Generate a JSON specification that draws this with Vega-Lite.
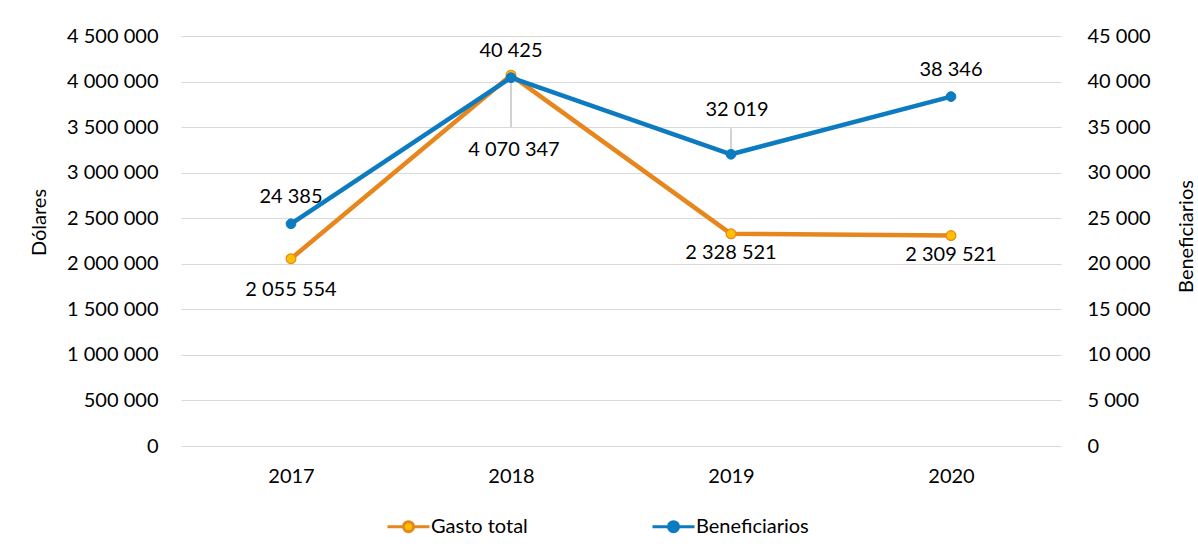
{
  "$schema": "https://vega.github.io/schema/vega-lite/v6.json",
  "width": 880,
  "height": 410,
  "autosize": {"type": "none"},
  "padding": {"left": 181, "top": 36, "right": 137, "bottom": 106},
  "background": "white",
  "config": {
    "locale": {"number": {"decimal": ",", "thousands": " ", "grouping": [3], "currency": ["", ""]}},
    "font": "Lato",
    "view": {"stroke": null},
    "axis": {
      "labelFont": "Lato", "labelFontSize": 20, "labelColor": "#000000",
      "titleFont": "Lato", "titleFontSize": 20, "titleFontWeight": "normal", "titleColor": "#000000",
      "domain": false, "ticks": false
    },
    "text": {"font": "Lato", "fontSize": 20, "color": "#000000"}
  },
  "data": {
    "values": [
      {"anio": "2017", "gasto": 2055554, "benef": 24385},
      {"anio": "2018", "gasto": 4070347, "benef": 40425},
      {"anio": "2019", "gasto": 2328521, "benef": 32019},
      {"anio": "2020", "gasto": 2309521, "benef": 38346}
    ]
  },
  "encoding": {
    "x": {
      "field": "anio", "type": "ordinal",
      "scale": {"type": "point", "padding": 0.5},
      "axis": {"title": null, "labelAngle": 0, "labelPadding": 20, "grid": false}
    }
  },
  "layer": [
    {
      "encoding": {
        "y": {
          "field": "gasto", "type": "quantitative",
          "scale": {"domain": [0, 4500000], "nice": false},
          "axis": {
            "title": "Dólares", "labelExpr": "format(datum.value, ',')",
            "values": [0, 500000, 1000000, 1500000, 2000000, 2500000, 3000000, 3500000, 4000000, 4500000],
            "grid": true, "gridColor": "#D9D9D9", "gridWidth": 1,
            "labelPadding": 23, "titleX": -132, "titleY": 186, "titleAngle": -90
          }
        }
      },
      "layer": [
        {
          "mark": {"type": "line", "strokeWidth": 4.5, "strokeCap": "round", "strokeJoin": "round"},
          "encoding": {
            "color": {
              "datum": "Gasto total",
              "scale": {"domain": ["Gasto total", "Beneficiarios"], "range": ["#E6861C", "#0C7BC0"]}
            }
          }
        },
        {
          "mark": {"type": "point", "filled": true, "fill": "#FFC000", "stroke": "#E6861C", "strokeWidth": 1.2, "size": 95, "opacity": 1}
        },
        {
          "mark": {"type": "rule", "color": "#A6A6A6", "strokeWidth": 1, "yOffset": 6, "y2Offset": 52, "x2Offset": 3},
          "transform": [{"filter": "datum.anio == '2018'"}],
          "encoding": {"y2": {"field": "gasto"}}
        },
        {
          "mark": {"type": "text", "dy": 31},
          "transform": [{"filter": "datum.anio == '2017'"}],
          "encoding": {"text": {"field": "gasto", "type": "quantitative", "format": ","}}
        },
        {
          "mark": {"type": "text", "dy": 75, "dx": 3},
          "transform": [{"filter": "datum.anio == '2018'"}],
          "encoding": {"text": {"field": "gasto", "type": "quantitative", "format": ","}}
        },
        {
          "mark": {"type": "text", "dy": 19},
          "transform": [{"filter": "datum.anio == '2019' || datum.anio == '2020'"}],
          "encoding": {"text": {"field": "gasto", "type": "quantitative", "format": ","}}
        }
      ]
    },
    {
      "encoding": {
        "y": {
          "field": "benef", "type": "quantitative",
          "scale": {"domain": [0, 45000], "nice": false},
          "axis": {
            "orient": "right", "title": "Beneficiarios", "labelExpr": "format(datum.value, ',')",
            "values": [0, 5000, 10000, 15000, 20000, 25000, 30000, 35000, 40000, 45000],
            "grid": false, "labelPadding": 26, "titleX": 135, "titleY": 200, "titleAngle": -90
          }
        }
      },
      "layer": [
        {
          "mark": {"type": "line", "strokeWidth": 4.5, "strokeCap": "round", "strokeJoin": "round"},
          "encoding": {
            "color": {
              "datum": "Beneficiarios",
              "legend": {
                "title": null, "orient": "none", "direction": "horizontal",
                "legendX": 205, "legendY": 468,
                "symbolType": "M-1,0 L-0.24,0 M0.24,0 L1,0 M-0.24,0 A0.24,0.24 0 1,1 0.24,0 A0.24,0.24 0 1,1 -0.24,0 Z",
                "symbolSize": 1764, "symbolStrokeWidth": 3,
                "labelFont": "Lato", "labelFontSize": 20, "labelColor": "#000000",
                "labelOffset": 0, "columnPadding": 118,
                "encode": {
                  "symbols": {
                    "update": {
                      "fill": {"signal": "datum.value === 'Gasto total' ? '#FFC000' : '#0C7BC0'"},
                      "stroke": {"signal": "datum.value === 'Gasto total' ? '#E6861C' : '#0C7BC0'"},
                      "fillOpacity": {"value": 1},
                      "opacity": {"value": 1}
                    }
                  }
                }
              }
            }
          }
        },
        {
          "mark": {"type": "point", "filled": true, "fill": "#0C7BC0", "stroke": "#0C7BC0", "strokeWidth": 1, "size": 95, "opacity": 1}
        },
        {
          "mark": {"type": "rule", "color": "#A6A6A6", "strokeWidth": 1, "yOffset": -5, "y2Offset": -26, "x2Offset": 6},
          "transform": [{"filter": "datum.anio == '2019'"}],
          "encoding": {"y2": {"field": "benef"}}
        },
        {
          "mark": {"type": "text", "dy": -27},
          "transform": [{"filter": "datum.anio != '2019'"}],
          "encoding": {"text": {"field": "benef", "type": "quantitative", "format": ","}}
        },
        {
          "mark": {"type": "text", "dy": -44, "dx": 6},
          "transform": [{"filter": "datum.anio == '2019'"}],
          "encoding": {"text": {"field": "benef", "type": "quantitative", "format": ","}}
        }
      ]
    }
  ],
  "resolve": {"scale": {"y": "independent"}}
}
